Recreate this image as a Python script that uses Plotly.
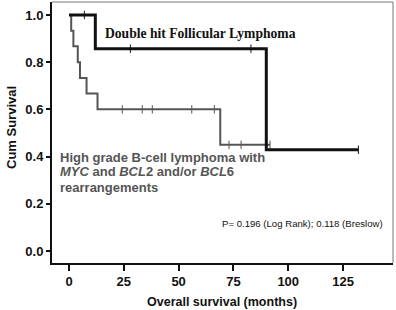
import plotly.graph_objects as go

# Double hit follicular lymphoma (black)
dh_time = [0, 12, 90, 132]
dh_surv = [1.0, 0.857, 0.429, 0.429]
dh_cens_time = [7, 28, 83, 132]
dh_cens_surv = [1.0, 0.857, 0.857, 0.429]

# High grade B-cell lymphoma (grey)
hg_time = [0, 1, 2, 4, 5, 8, 13, 69, 91.7]
hg_surv = [1.0, 0.933, 0.867, 0.8, 0.733, 0.667, 0.6, 0.45, 0.45]
hg_cens_time = [24.3, 33.4, 38, 56, 66.3, 73, 78.5, 91.7]
hg_cens_surv = [0.6, 0.6, 0.6, 0.6, 0.6, 0.45, 0.45, 0.45]

x_ticks = [0, 25, 50, 75, 100, 125]
y_ticks = [0.0, 0.2, 0.4, 0.6, 0.8, 1.0]

BLACK = "#111111"
GREY = "#555555"
SANS = "Liberation Sans, Arial, sans-serif"

fig = go.Figure()
fig.add_trace(go.Scatter(x=hg_time, y=hg_surv, mode="lines", line=dict(color=GREY, width=2, shape="hv"),
                         showlegend=False, hoverinfo="skip"))
fig.add_trace(go.Scatter(x=hg_cens_time, y=hg_cens_surv, mode="markers",
                         marker=dict(symbol="line-ns", size=6, line=dict(color=GREY, width=1)),
                         showlegend=False, hoverinfo="skip"))
fig.add_trace(go.Scatter(x=dh_time, y=dh_surv, mode="lines", line=dict(color=BLACK, width=3, shape="hv"),
                         showlegend=False, hoverinfo="skip"))
fig.add_trace(go.Scatter(x=dh_cens_time, y=dh_cens_surv, mode="markers",
                         marker=dict(symbol="line-ns", size=6, line=dict(color=BLACK, width=1)),
                         showlegend=False, hoverinfo="skip"))

W, H = 396, 310
L, R, T, B = 52, 3, 2, 47
pw, ph = W - L - R, H - T - B

def px(p):
    return (p - L) / pw

def py(q):
    return (H - B - q) / ph

# frame top/right in grey
fig.add_shape(type="line", xref="paper", yref="paper", x0=0, x1=1, y0=1, y1=1, line=dict(color="#777777", width=1))
fig.add_shape(type="line", xref="paper", yref="paper", x0=1, x1=1, y0=0, y1=1, line=dict(color="#777777", width=1))

annotations = [
    dict(x=px(103), y=py(33), xref="paper", yref="paper", xanchor="left", yanchor="middle", showarrow=False,
         text="<b>Double hit Follicular Lymphoma</b>",
         font=dict(family="Liberation Serif, Times New Roman, serif", size=13.6, color=BLACK)),
    dict(x=px(58), y=py(157), xref="paper", yref="paper", xanchor="left", yanchor="middle", showarrow=False,
         text="<b>High grade B-cell lymphoma with</b>", font=dict(family=SANS, size=13, color=GREY)),
    dict(x=px(58), y=py(172), xref="paper", yref="paper", xanchor="left", yanchor="middle", showarrow=False,
         text="<b><i>MYC</i> and <i>BCL</i>2 and/or <i>BCL</i>6</b>", font=dict(family=SANS, size=13, color=GREY)),
    dict(x=px(58), y=py(187), xref="paper", yref="paper", xanchor="left", yanchor="middle", showarrow=False,
         text="<b>rearrangements</b>", font=dict(family=SANS, size=13, color=GREY)),
    dict(x=px(385), y=py(223), xref="paper", yref="paper", xanchor="right", yanchor="middle", showarrow=False,
         text="P= 0.196 (Log Rank); 0.118 (Breslow)",
         font=dict(family=SANS, size=9.6, color=BLACK)),
    dict(x=px(12), y=py(128), xref="paper", yref="paper", xanchor="center", yanchor="middle", showarrow=False,
         textangle=-90, text="<b>Cum Survival</b>", font=dict(family=SANS, size=13, color=BLACK)),
    dict(x=px(222), y=py(302), xref="paper", yref="paper", xanchor="center", yanchor="middle", showarrow=False,
         text="<b>Overall survival (months)</b>", font=dict(family=SANS, size=12.5, color=BLACK)),
]

fig.update_layout(
    width=W, height=H,
    margin=dict(l=L, r=R, t=T, b=B, pad=0),
    paper_bgcolor="white", plot_bgcolor="white",
    annotations=annotations,
    xaxis=dict(range=[-7.76, 147.8], tickvals=x_ticks, showgrid=False, zeroline=False,
               showline=True, linecolor=BLACK, linewidth=1.5, ticks="outside", ticklen=6, tickwidth=1.5,
               tickcolor=BLACK, tickfont=dict(family=SANS, size=13, color=BLACK, weight="bold")),
    yaxis=dict(range=[-0.051, 1.055], tickvals=y_ticks, tickformat=".1f", showgrid=False, zeroline=False,
               showline=True, linecolor=BLACK, linewidth=2, ticks="outside", ticklen=4, tickwidth=1.5,
               tickcolor=BLACK, tickfont=dict(family=SANS, size=13, color=BLACK, weight="bold")),
)

fig.write_html("out.html", config={"displayModeBar": False},
               post_script="document.body.style.margin='0';document.body.style.padding='0';")
